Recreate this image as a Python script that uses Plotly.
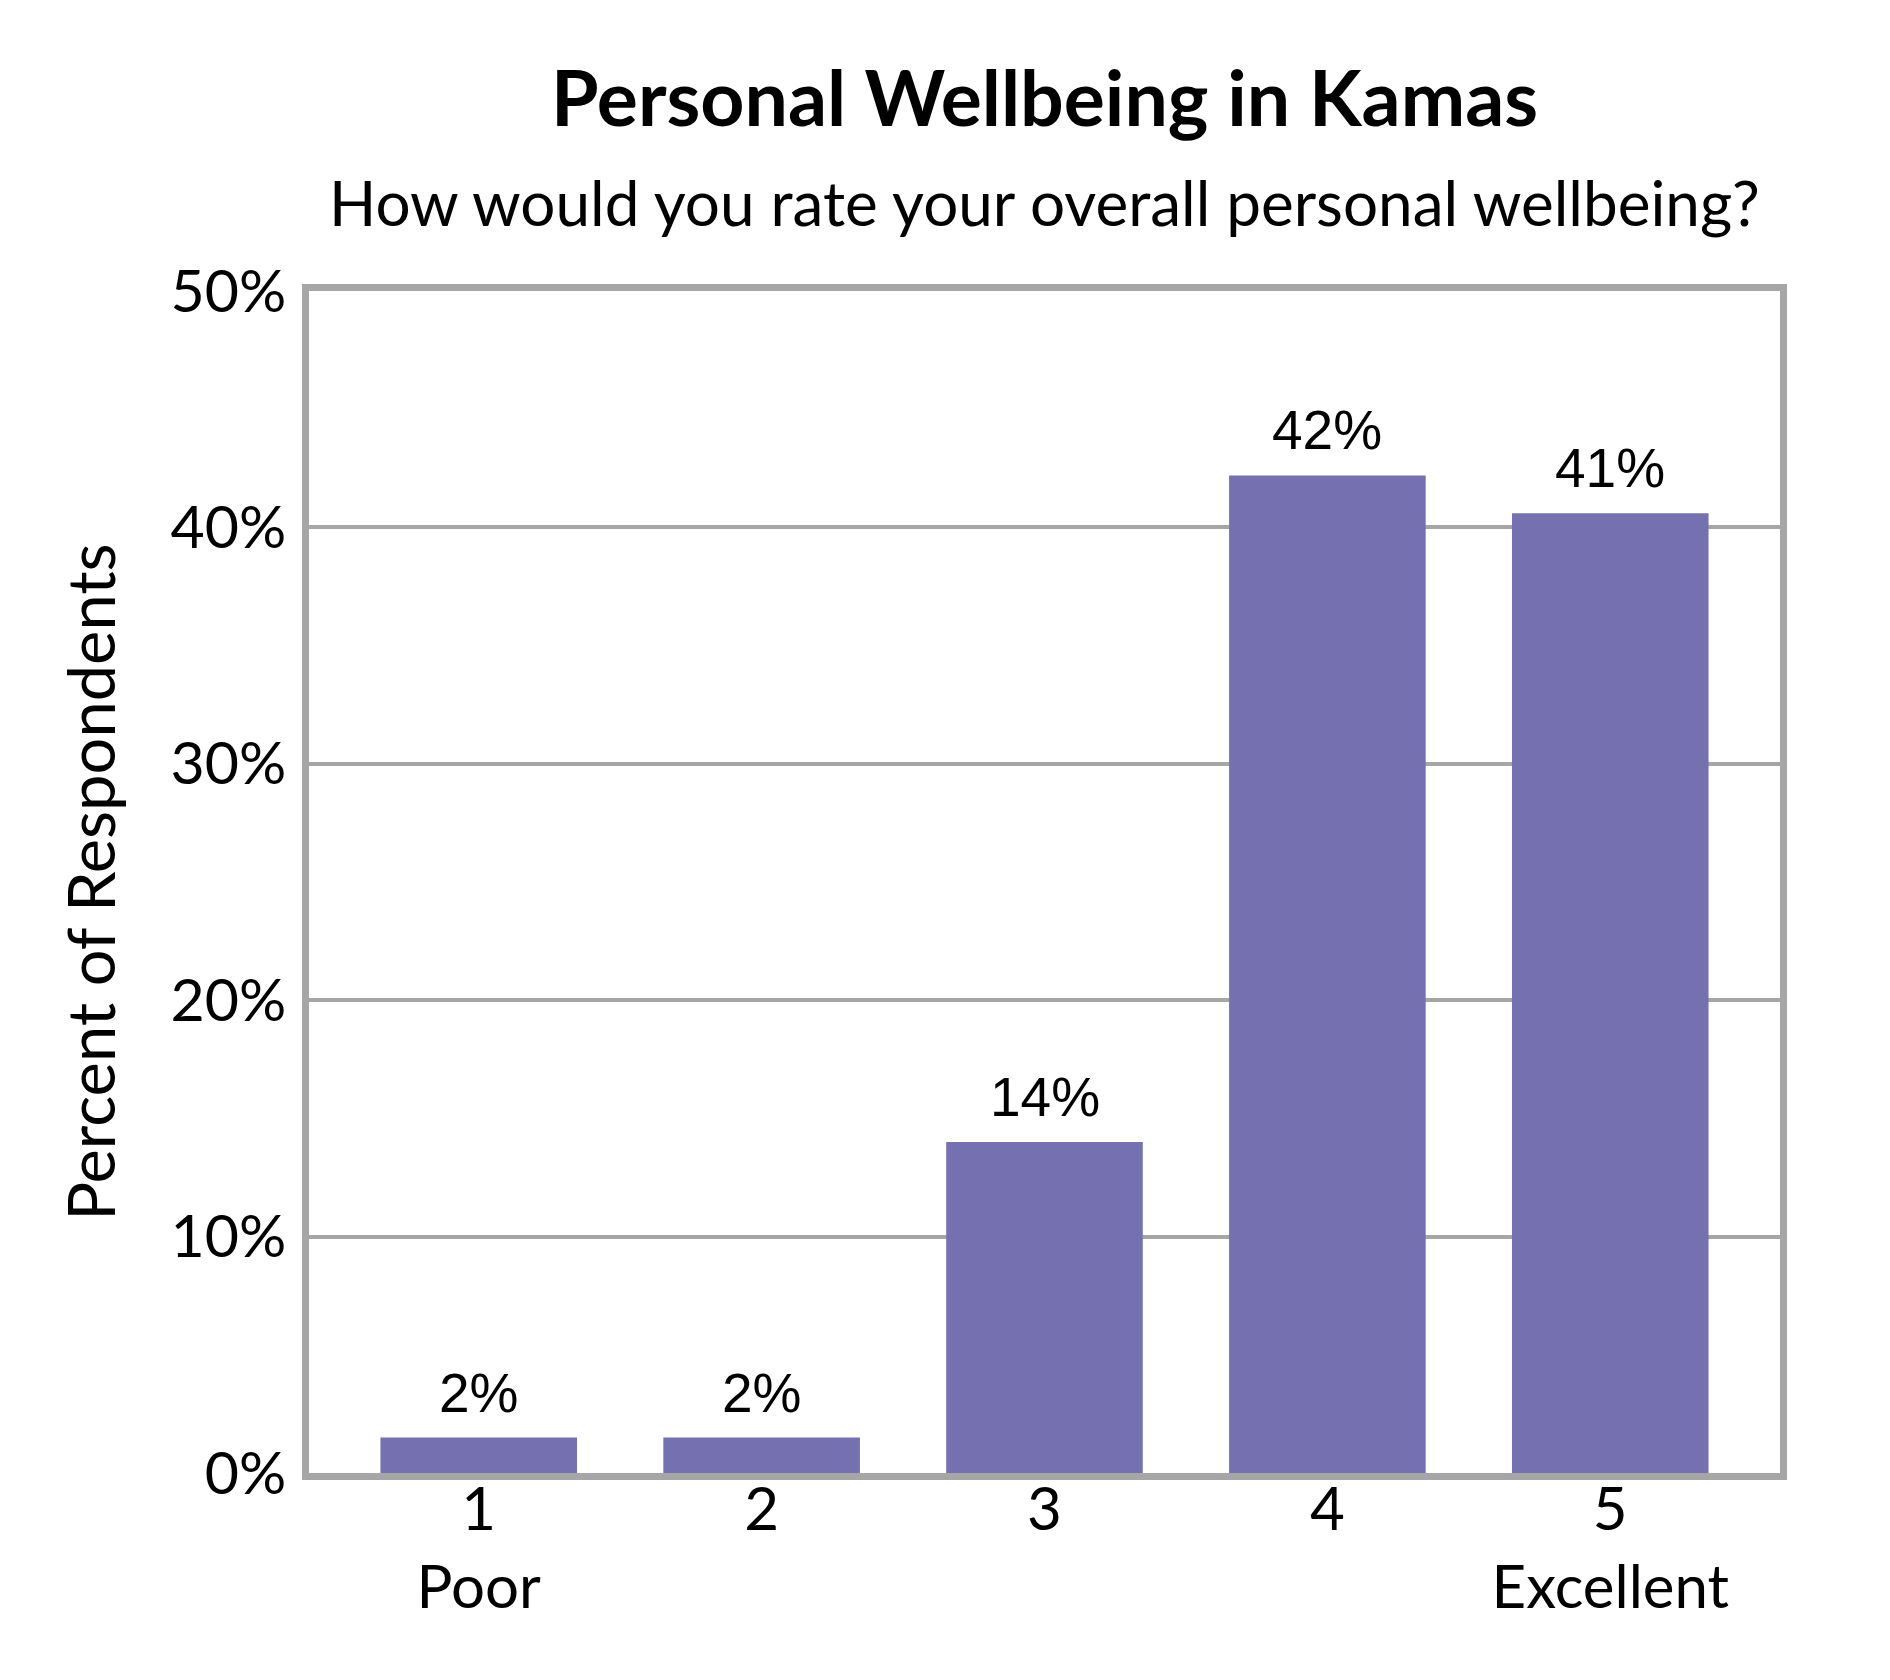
import plotly.graph_objects as go

# survey answers, percent of respondents
ratings = ['1', '2', '3', '4', '5']
tick_labels = ['1<br>Poor', '2', '3', '4', '5<br>Excellent']
percents = [1.5, 1.5, 14.0, 42.2, 40.6]
bar_labels = ['2%', '2%', '14%', '42%', '41%']

bar_color = '#7571B1'
frame_gray = '#A6A6A6'
main_font = 'Lato'

fig = go.Figure()

fig.add_trace(go.Bar(
    x=ratings,
    y=percents,
    marker=dict(color=bar_color, line=dict(width=0)),
    hoverinfo='skip'
))

# value labels above the bars (category axis -> position by index)
for i, (p, lab) in enumerate(zip(percents, bar_labels)):
    fig.add_annotation(
        x=i, y=p, text=lab,
        showarrow=False,
        yanchor='bottom',
        yshift=12,
        font=dict(family='Liberation Sans', size=55, color='black')
    )

fig.add_annotation(
    text='How would you rate your overall personal wellbeing?',
    xref='paper', yref='paper',
    x=0.5, y=1.075,
    xanchor='center', yanchor='middle',
    showarrow=False,
    font=dict(family=main_font, size=62, color='black')
)

fig.add_annotation(
    text='Percent of Respondents',
    xref='paper', yref='paper',
    x=-0.149, y=0.5,
    xanchor='center', yanchor='middle',
    textangle=-90,
    showarrow=False,
    font=dict(family=main_font, size=65, color='black')
)

fig.update_layout(
    width=1890,
    height=1680,
    margin=dict(l=301, r=118, t=283, b=215),
    paper_bgcolor='white',
    plot_bgcolor='white',
    showlegend=False,
    bargap=0.305,
    title=dict(
        text='<b>Personal Wellbeing in Kamas</b>',
        xref='paper', x=0.5, xanchor='center',
        y=0.946, yanchor='middle',
        font=dict(family=main_font, size=77, color='black')
    ),
    xaxis=dict(
        type='category',
        range=[-0.6, 4.6],
        tickmode='array',
        tickvals=ratings,
        ticktext=tick_labels,
        showline=True, mirror=True,
        linecolor=frame_gray, linewidth=7,
        showgrid=False,
        ticks='',
        ticklabelstandoff=-22,
        tickfont=dict(family=main_font, size=60, color='black')
    ),
    yaxis=dict(
        range=[0, 50],
        dtick=10,
        ticksuffix='%',
        showline=True, mirror=True,
        linecolor=frame_gray, linewidth=7,
        showgrid=True, gridcolor=frame_gray, gridwidth=4,
        zeroline=False,
        ticks='',
        ticklabelstandoff=4,
        tickfont=dict(family=main_font, size=59, color='black')
    )
)

fig.write_html('out.html')
